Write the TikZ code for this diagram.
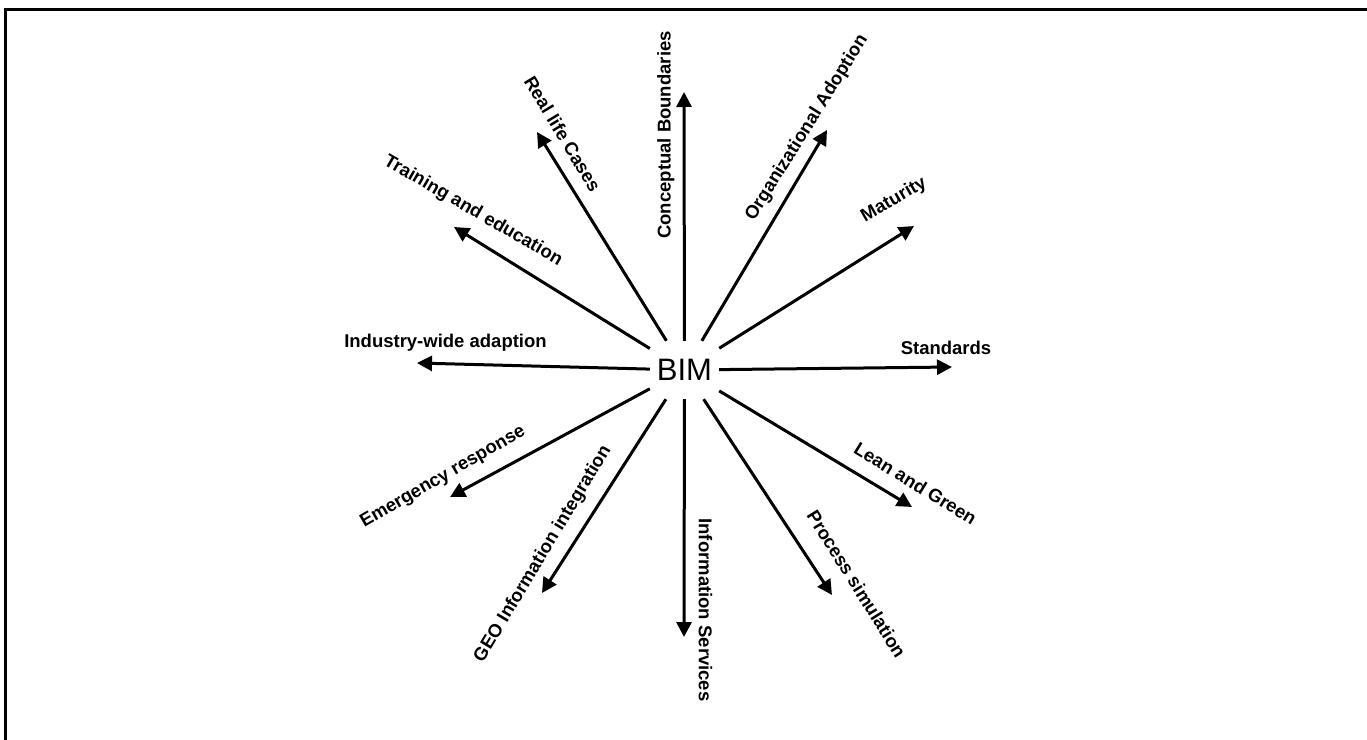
\documentclass[tikz,border=0pt]{standalone}
\usepackage{fontspec}
\setmainfont{Liberation Sans}
\usetikzlibrary{arrows.meta}
\begin{document}
\begin{tikzpicture}[x=1pt,y=-1pt,
  arr/.style={line width=3pt,-{Triangle[length=15pt,width=15pt]}},
  lbl/.style={font=\fontsize{18.5}{22}\selectfont\bfseries,inner sep=0pt,text height=13.3pt,text depth=3.9pt},
  hub/.style={font=\fontsize{31}{36}\selectfont,inner sep=0pt,minimum width=69pt,minimum height=58pt}]
\useasboundingbox (0,0) rectangle (1367,739);
\draw[line width=3pt] (5,760) -- (5,9) -- (1380,9);
\node[hub] (bim) at (684.5,370) {BIM};
% arrow tips
\coordinate (tCB) at (684,92);
\coordinate (tRL) at (537,132);
\coordinate (tTE) at (454,227);
\coordinate (tIW) at (417,363);
\coordinate (tER) at (450,497);
\coordinate (tGEO) at (542,593);
\coordinate (tIS) at (684,637);
\coordinate (tPS) at (832,595);
\coordinate (tLG) at (912,507);
\coordinate (tST) at (952,367);
\coordinate (tMA) at (914,226);
\coordinate (tOA) at (827,130);
\foreach \t in {tCB,tRL,tTE,tIW,tER,tGEO,tIS,tPS,tLG,tST,tMA,tOA}
  \draw[arr] (bim) -- (\t);
% labels
\node[lbl,rotate=90] (lCB) at (666,135) {Conceptual Boundaries};
\node[lbl,rotate=-59] (lRL) at (561,135) {Real life Cases};
\node[lbl,rotate=-30] (lTE) at (473,211) {Training and education};
\node[lbl] (lIW) at (445.5,343) {Industry-wide adaption};
\node[lbl,rotate=30] (lER) at (443,477) {Emergency response};
\node[lbl,rotate=59] (lGEO) at (543,554) {GEO Information integration};
\node[lbl,rotate=-90] (lIS) at (703.5,610) {Information Services};
\node[lbl,rotate=-58] (lPS) at (855,585) {Process simulation};
\node[lbl,rotate=-31.6] (lLG) at (914.5,485) {Lean and Green};
\node[lbl] (lST) at (946,350) {Standards};
\node[lbl,rotate=30] (lMA) at (894,200) {Maturity};
\node[lbl,rotate=58] (lOA) at (807,128) {Organizational Adoption};
\end{tikzpicture}
\end{document}
